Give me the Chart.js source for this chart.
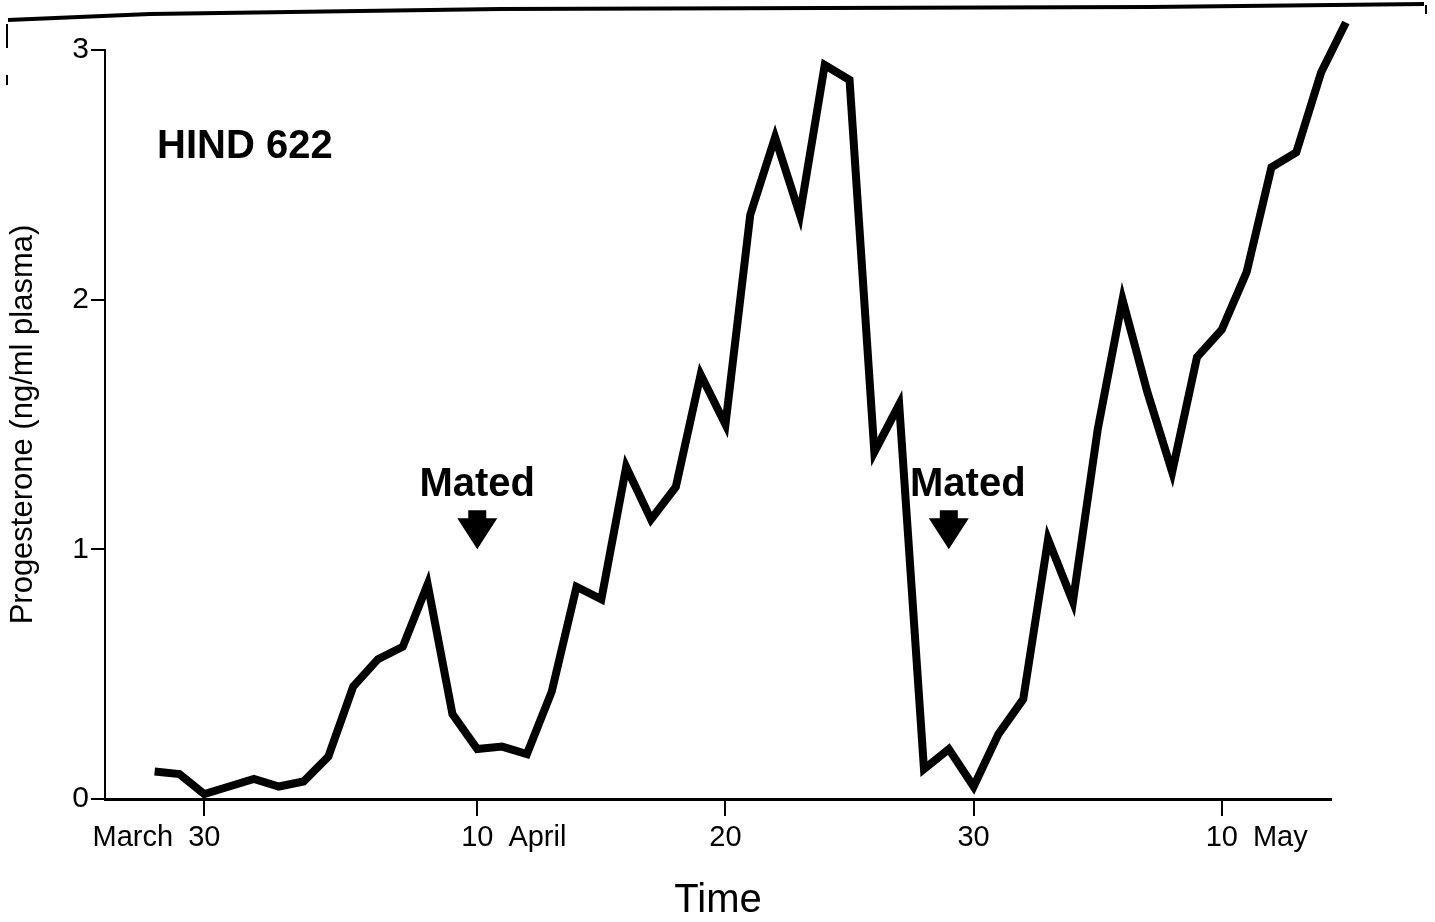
<!DOCTYPE html>
<html>
<head>
<meta charset="utf-8">
<title>HIND 622</title>
<script src="https://cdn.jsdelivr.net/npm/chart.js@4.4.0/dist/chart.umd.min.js"></script>
<style>
  html, body { margin: 0; padding: 0; background: #fff; }
  canvas { display: block; }
</style>
</head>
<body>
<canvas id="chart" width="1435" height="922"></canvas>
<script>
// dia 0 = 30 de março
const days = [-2, -1, 0, 1, 2, 3, 4, 5, 6, 7, 8, 9, 10, 11, 12, 13, 14, 15, 16, 17, 18, 19, 20, 21, 22, 23,
    24, 25, 26, 27, 28, 29, 30, 31, 32, 33, 34, 35, 36, 37, 38, 39, 40, 41, 42, 43, 44, 45, 46];
const progesterone = [0.11, 0.10, 0.02, 0.05, 0.08, 0.05, 0.07, 0.17, 0.45, 0.56, 0.61, 0.86, 0.34, 0.20,
    0.21, 0.18, 0.43, 0.85, 0.80, 1.33, 1.12, 1.25, 1.70, 1.50, 2.34, 2.65, 2.34, 2.94, 2.88, 1.39, 1.58,
    0.12, 0.20, 0.05, 0.26, 0.40, 1.04, 0.79, 1.48, 2.00, 1.63, 1.31, 1.77, 1.88, 2.11, 2.53, 2.59, 2.91, 3.11];

const tickDays = [0, 11, 21, 31, 41];
const tickLabels = ['30', '10', '20', '30', '10'];
const tickMonths = ['March', 'April', '', '', 'May'];
const yTicks = [0, 1, 2, 3];
const yTickLabels = ['0', '1', '2', '3'];

const matedDays = [11, 30];
const matedLevel = 1.0;

const FONT = '"Liberation Sans", Arial, Helvetica, sans-serif';

// textos e setas desenhados por cima do gráfico
const annotations = {
    id: 'annotations',
    beforeDraw(chart) {
        const ctx = chart.ctx;
        ctx.save();
        // borda do papel escaneado
        ctx.strokeStyle = '#000';
        ctx.lineWidth = 4;
        ctx.beginPath();
        ctx.moveTo(8, 20);
        ctx.lineTo(150, 14);
        ctx.lineTo(500, 9);
        ctx.lineTo(1150, 7);
        ctx.lineTo(1424, 4);
        ctx.stroke();
        ctx.lineWidth = 2;
        ctx.beginPath();
        ctx.moveTo(7, 24); ctx.lineTo(7, 48);
        ctx.moveTo(7, 75); ctx.lineTo(7, 85);
        ctx.moveTo(1426, 5); ctx.lineTo(1426, 14);
        ctx.stroke();
        ctx.restore();
    },
    afterDraw(chart) {
        const { ctx, scales: { x, y } } = chart;
        ctx.save();
        ctx.fillStyle = '#000';

        // nomes dos meses ao lado dos rótulos
        ctx.font = '29px ' + FONT;
        ctx.textBaseline = 'middle';
        const labelY = x.top + 17 + 5 + 29 * 1.2 / 2;
        tickDays.forEach((d, i) => {
            const m = tickMonths[i];
            if (!m) return;
            const px = x.getPixelForValue(d);
            const half = ctx.measureText(tickLabels[i]).width / 2;
            if (i === 0) {
                ctx.textAlign = 'right';
                ctx.fillText(m, px - half - 15, labelY);
            } else {
                ctx.textAlign = 'left';
                ctx.fillText(m, px + half + 15, labelY);
            }
        });

        ctx.font = 'bold 40px ' + FONT;
        ctx.textBaseline = 'alphabetic';
        ctx.textAlign = 'left';
        ctx.fillText('HIND 622', 157, 158);

        const textOffsets = [0, 19];
        matedDays.forEach((d, i) => {
            const ax = x.getPixelForValue(d);
            const tip = y.getPixelForValue(matedLevel);
            ctx.beginPath();
            ctx.moveTo(ax - 9, tip - 39);
            ctx.lineTo(ax + 9, tip - 39);
            ctx.lineTo(ax + 9, tip - 31);
            ctx.lineTo(ax + 20, tip - 31);
            ctx.lineTo(ax, tip);
            ctx.lineTo(ax - 20, tip - 31);
            ctx.lineTo(ax - 9, tip - 31);
            ctx.closePath();
            ctx.fill();
            ctx.textAlign = 'center';
            ctx.fillText('Mated', ax + textOffsets[i], tip - 53);
        });
        ctx.restore();
    }
};

const ctx = document.getElementById('chart').getContext('2d');
new Chart(ctx, {
    type: 'line',
    data: {
        datasets: [{
            data: days.map((d, i) => ({ x: d, y: progesterone[i] })),
            borderColor: '#000',
            borderWidth: 8,
            borderJoinStyle: 'miter',
            pointRadius: 0,
            tension: 0,
            fill: false,
            clip: false
        }]
    },
    options: {
        responsive: false,
        animation: false,
        devicePixelRatio: 1,
        layout: { padding: { top: 50, right: 104, bottom: 0, left: 0 } },
        plugins: {
            legend: { display: false },
            tooltip: { enabled: false }
        },
        scales: {
            x: {
                type: 'linear',
                min: -4,
                max: 45.4,
                afterFit: s => { s.height = 123; },
                afterBuildTicks: s => { s.ticks = tickDays.map(v => ({ value: v })); },
                ticks: {
                    callback: (v, i) => tickLabels[i],
                    font: { family: FONT, size: 29, lineHeight: 1.2 },
                    color: '#000',
                    padding: 5,
                    maxRotation: 0,
                    autoSkip: false
                },
                grid: { drawOnChartArea: false, drawTicks: true, tickLength: 17, color: '#000', lineWidth: 2 },
                border: { display: true, color: '#000', width: 3 },
                title: {
                    display: true,
                    text: 'Time',
                    color: '#000',
                    font: { family: FONT, size: 40, lineHeight: 1 },
                    padding: { top: 0, bottom: 1 }
                }
            },
            y: {
                min: 0,
                max: 3,
                afterFit: s => { s.width = 105; },
                afterBuildTicks: s => { s.ticks = yTicks.map(v => ({ value: v })); },
                ticks: {
                    callback: (v, i) => yTickLabels[i],
                    font: { family: FONT, size: 30 },
                    color: '#000',
                    padding: 2
                },
                grid: { drawOnChartArea: false, drawTicks: true, tickLength: 14, color: '#000', lineWidth: 2 },
                border: { display: true, color: '#000', width: 2 },
                title: {
                    display: true,
                    text: 'Progesterone (ng/ml plasma)',
                    color: '#000',
                    font: { family: FONT, size: 31 },
                    padding: { top: 5, bottom: 0 }
                }
            }
        }
    },
    plugins: [annotations]
});
</script>
</body>
</html>
